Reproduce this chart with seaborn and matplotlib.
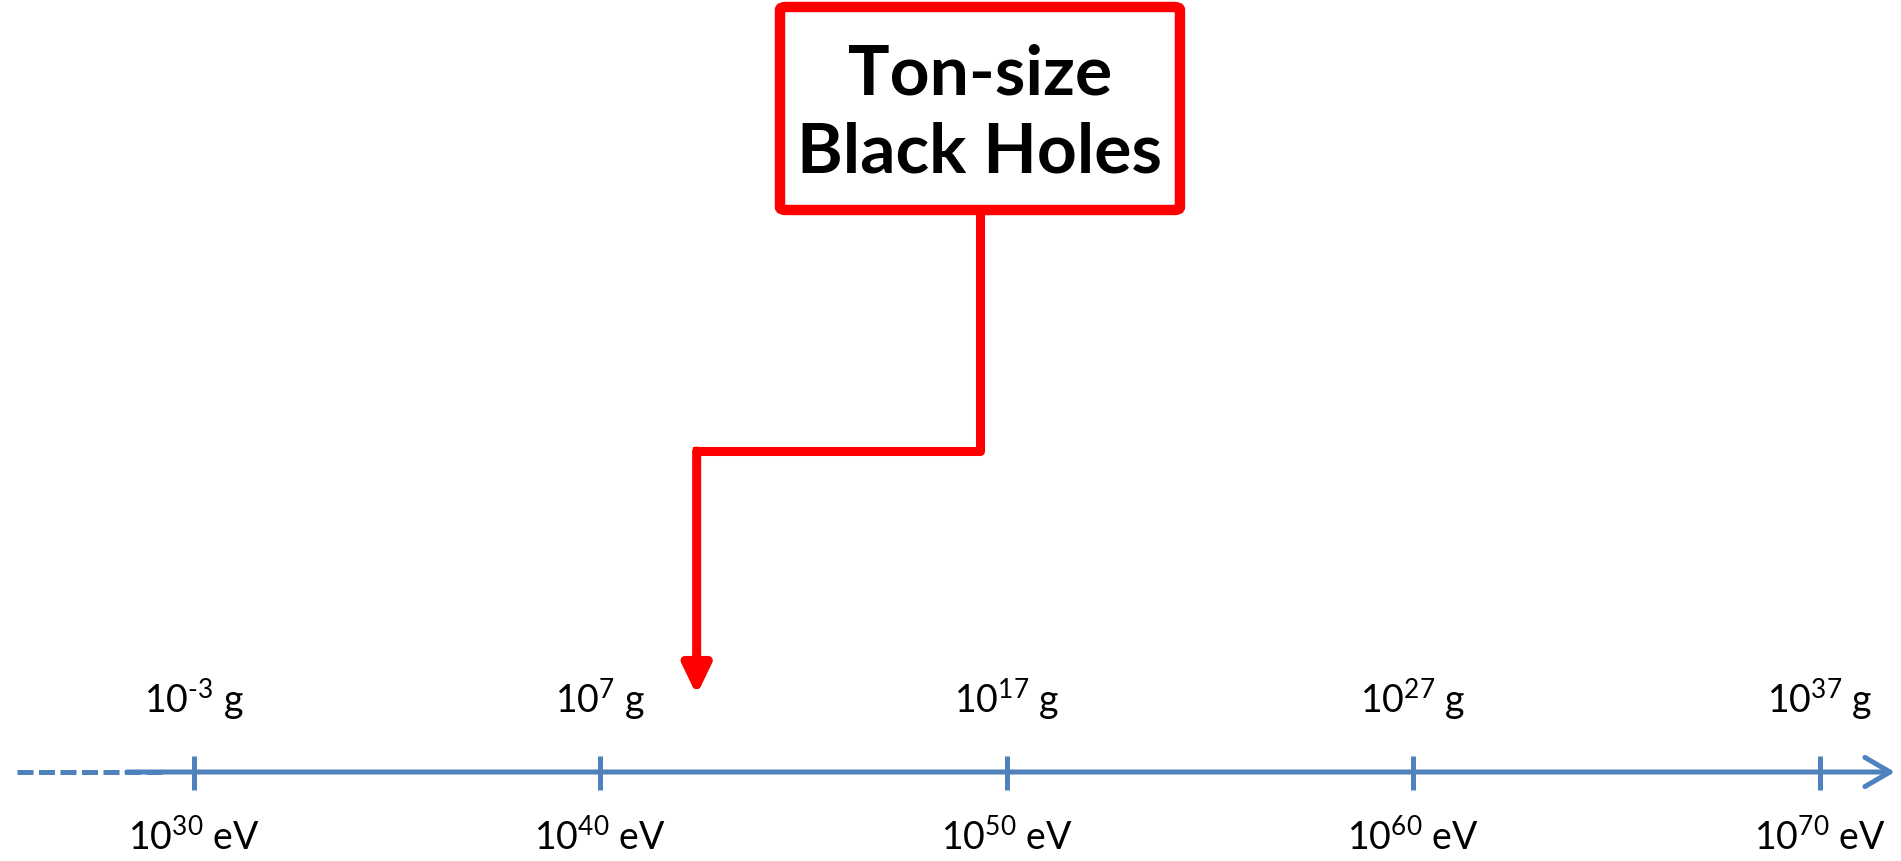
import matplotlib
matplotlib.use("Agg")
import matplotlib.pyplot as plt
import pandas as pd
import seaborn as sns
from matplotlib.patches import FancyBboxPatch

# Scale values (log10 of energy in eV and matching mass in g)
energy_exp = [30, 40, 50, 60, 70]
mass_exp = [-3, 7, 17, 27, 37]
energy_labels = [r"$10^{%d}$ eV" % e for e in energy_exp]
mass_labels = [r"$10^{\text{%d}}$ g" % m for m in mass_exp]

# Callout
callout_text = "Ton-size\nBlack Holes"
callout_target = 42.37   # where the red arrow points on the scale

sns.set_theme(style="white")
plt.rcParams["font.family"] = ["Lato", "DejaVu Sans"]
plt.rcParams["mathtext.fontset"] = "custom"
plt.rcParams["mathtext.rm"] = "Lato"
plt.rcParams["mathtext.it"] = "Lato:italic"
plt.rcParams["mathtext.bf"] = "Lato:bold"

blue = "#4F81BD"
red = "#FF0000"

fig = plt.figure(figsize=(19.01, 8.62), dpi=100)
ax = fig.add_axes([0, 0, 1, 1])
ax.set_xlim(25.23, 72.0)
ax.set_ylim(862, 0)   # pixel-like vertical coords, top = 0
ax.axis("off")

axis_y = 773

# dashed lead-in of the scale
df_dash = pd.DataFrame({"x": [25.65, 29.3], "y": [axis_y, axis_y]})
sns.lineplot(data=df_dash, x="x", y="y", ax=ax, color=blue, lw=3.6,
             linestyle=(0, (3.2, 1.1)), legend=False)

# main scale with open arrow head
ax.annotate("", xy=(71.85, axis_y), xytext=(28.35, axis_y),
            arrowprops=dict(arrowstyle="->,head_length=0.6,head_width=0.35",
                            color=blue, lw=3.6, mutation_scale=30,
                            shrinkA=0, shrinkB=0))

# tick marks
ax.vlines(energy_exp, axis_y - 16, axis_y + 18, color=blue, lw=3.6)

for e, el, ml in zip(energy_exp, energy_labels, mass_labels):
    ax.text(e, 713, ml, ha="center", va="baseline", fontsize=27, color="black")
    ax.text(e, 850, el, ha="center", va="baseline", fontsize=27, color="black")

# callout box
box_x0, box_x1 = 44.42, 54.26
box = FancyBboxPatch((box_x0, 8), box_x1 - box_x0, 203,
                     boxstyle="round,pad=0,rounding_size=0.15",
                     fc="white", ec=red, lw=7.5, mutation_aspect=20)
ax.add_patch(box)
cx = (box_x0 + box_x1) / 2
ax.text(cx, 114, callout_text, ha="center", va="center", fontsize=50,
        fontweight="bold", color="black", linespacing=1.3)

# connector
ax.plot([cx, cx, callout_target], [212, 452, 452],
        color=red, lw=6.5, solid_joinstyle="round", solid_capstyle="projecting")
ax.annotate("", xy=(callout_target, 696), xytext=(callout_target, 452),
            arrowprops=dict(arrowstyle="-|>,head_length=0.58,head_width=0.28",
                            color=red, lw=6.5, mutation_scale=30,
                            shrinkA=0, shrinkB=0))

fig.savefig("out.png", dpi=100)
